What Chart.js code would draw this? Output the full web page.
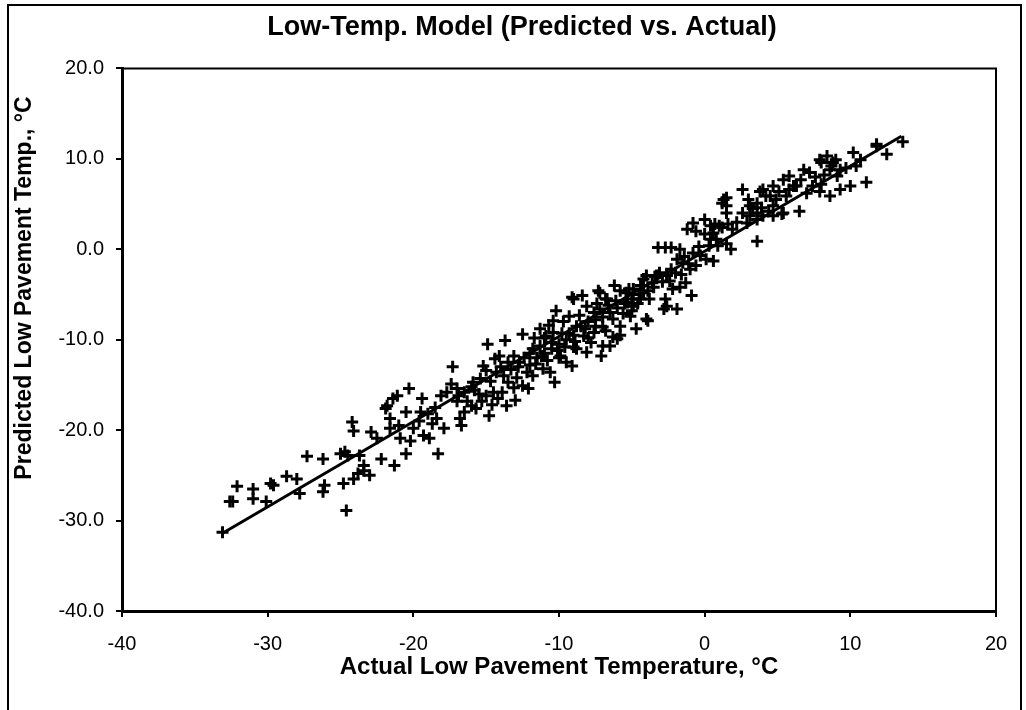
<!DOCTYPE html>
<html>
<head>
<meta charset="utf-8">
<script src="https://cdn.jsdelivr.net/npm/chart.js@4/dist/chart.umd.min.js"></script>
<style>
    html, body { margin: 0; padding: 0; background: #fff; }
    #wrap { width: 1026px; height: 710px; position: relative; }
</style>
</head>
<body>
<div id="wrap"><canvas id="lowTempChart"></canvas></div>
<script>
// actual vs predicted low pavement temperature
const actualTemp = [
    -33.1, -32.6, -32.4, -32.1, -31.0, -31.0, -30.1, -29.8, -29.6, -28.7, -28.0, -27.8,
    -27.3, -26.2, -26.1, -26.2, -25.0, -24.7, -24.5, -24.8, -24.2, -24.1, -24.6, -24.1,
    -23.8, -23.4, -23.0, -23.7, -23.4, -22.9, -22.5, -22.2, -21.3, -21.9, -21.6, -21.4,
    -20.5, -18.3, -21.8, -21.1, -20.3, -19.4, -21.6, -20.9, -20.0, -19.3, -18.9, -18.4,
    -17.9, -18.1, -17.7, -17.3, -17.4, -17.0, -16.7, -16.8, -16.5, -16.0, -15.7, -15.9,
    -15.4, -15.2, -15.0, -14.9, -14.8, -15.0, -14.5, -14.2, -14.4, -14.1, -13.7, -13.8,
    -13.5, -13.1, -13.6, -13.0, -13.1, -12.7, -12.5, -12.5, -12.1, -12.2, -11.8, -11.8,
    -11.3, -11.1, -10.6, -10.3, -10.9, -10.4, -9.9, -9.5, -9.1, -8.8, -8.1, -8.3,
    -7.6, -7.1, -6.5, -6.0, -11.3, -10.2, -10.4, -9.3, -8.8, -9.0, -8.4, -8.1,
    -7.6, -7.2, -7.2, -6.7, -6.2, -5.8, -5.4, -4.9, -4.4, -4.2, -7.0, -6.3,
    -5.8, -4.7, -6.3, -5.8, -5.1, -4.9, -4.0, -9.1, -7.3, -6.8, -5.2, -4.9,
    -3.6, -4.2, -3.8, -3.1, -2.6, -2.3, -2.2, -1.7, -2.7, -2.8, -0.9, -3.9,
    -1.9, -1.5, -1.0, -3.2, -2.7, -2.3, -1.7, -0.8, -0.3, 0.1, 0.6, -1.2,
    -0.8, 0.0, 0.4, 0.7, 0.0, 0.4, 1.2, 1.2, 1.5, 1.5, 1.5, 1.8,
    3.6, 6.5, 6.8, 7.2, 7.9, 8.4, 8.8, 8.6, 9.1, 7.4, 7.9, 8.6,
    9.3, 10.0, 11.1, 10.2, 10.7, 10.4, 11.8, 12.5, 4.7, 5.4, 5.8, 6.3,
    4.5, 4.9, 5.6, 4.7, 5.3, 2.6, 3.0, 3.6, 4.0, 4.2, 1.3, 1.5,
    2.6, 3.1, 3.6, 4.0, 1.0, 1.6, 1.9, 0.8, -4.0, -3.3, -2.6, -1.3,
    -2.6, -1.9, 13.6, 11.8, 8.0, 8.7, 9.3, 6.1, 3.8, 4.7, 5.4, 3.1,
    3.6, -12.0, -11.5, -10.5, -10.0, -9.5, -9.0, -8.5, -8.0, -7.5, -7.0, -6.5,
    -6.0, -5.5, -5.0, -4.5, -13.5, -14.0, -12.8, -11.0, -10.0, -9.0, -8.0, -7.5,
    -15.5, -16.0, -16.5, -17.0, -18.5, -19.5, -20.5,
    -21.0, -20.2, -19.6, -19.0, -18.7, -16.9, -16.3, -15.8, -15.3, -14.7, -14.3, -14.6,
    -13.9, -13.3, -12.9, -12.4, -12.0, -11.6, -11.2, -10.8, -10.5, -10.1, -9.8, -9.6,
    -11.7, -11.0, -10.7, -9.7, -9.3, -8.9, -8.6, -8.2, -7.8, -7.4, -7.0, -6.8,
    -6.6, -6.1, -5.6, -5.3, -5.0, -4.6, -4.4, -3.9, -3.5, -3.4, -2.9, -2.4,
    -2.0, -1.6, -1.4, -1.1, -0.6, -0.4, 0.3, 0.9, 0.6, -0.6, 2.2, 2.9,
    3.3, 3.9, 4.4, 5.1, 5.8, 6.6, 7.0, 7.6, 8.2, 8.0, 9.0, 9.7
];
const predictedTemp = [
    -31.3, -27.9, -27.9, -26.2, -26.5, -27.6, -27.9, -25.9, -26.1, -25.1, -25.4, -27.0,
    -22.9, -23.2, -26.1, -26.8, -22.6, -22.4, -22.8, -25.9, -19.1, -20.1, -28.9, -25.4,
    -24.8, -24.5, -25.0, -22.8, -23.9, -20.2, -20.9, -23.2, -23.9, -17.6, -18.7, -16.5,
    -22.6, -22.6, -17.3, -16.2, -15.4, -16.5, -19.8, -20.9, -19.8, -20.6, -20.9, -18.7,
    -19.8, -16.2, -15.8, -13.0, -14.9, -15.4, -19.5, -18.7, -18.0, -17.3, -17.6, -14.7,
    -14.3, -12.9, -13.4, -10.5, -18.4, -16.2, -15.8, -16.5, -12.1, -11.8, -10.1, -14.0,
    -14.7, -15.3, -17.3, -16.7, -11.8, -12.5, -9.4, -15.1, -15.4, -13.6, -14.0, -11.0,
    -10.7, -13.2, -13.6, -14.7, -9.6, -9.2, -11.8, -12.5, -12.9, -11.0, -11.4, -9.6,
    -9.2, -11.8, -10.7, -9.9, -8.8, -6.8, -7.9, -7.4, -8.5, -5.5, -5.1, -6.3,
    -7.0, -6.6, -4.8, -5.5, -4.0, -4.6, -4.8, -4.4, -4.0, -3.3, -10.7, -9.7,
    -9.5, -8.8, -7.7, -8.5, -7.4, -6.3, -7.7, -5.3, -4.6, -5.5, -4.4, -5.0,
    -3.7, -4.8, -5.5, -2.6, -2.9, -2.2, -4.4, -4.2, -5.5, -6.6, -5.1, -7.9,
    -1.1, -1.5, -2.2, 0.2, 0.2, 0.2, 0.0, -0.4, -0.7, -1.1, -1.3, 2.2,
    2.9, 3.3, 2.6, 2.8, 1.7, 1.1, 2.4, 5.1, 5.7, 4.0, 0.6, 0.0,
    0.9, 4.2, 8.8, 8.5, 9.9, 10.3, 9.6, 8.8, 8.1, 7.0, 6.4, 5.9,
    6.6, 7.0, 7.4, 10.7, 9.9, 9.2, 11.6, 10.5, 7.0, 7.7, 8.1, 7.0,
    5.9, 5.5, 5.9, 3.7, 3.9, 6.6, 5.5, 5.1, 6.6, 5.9, 5.5, 4.8,
    4.0, 3.7, 3.3, 3.7, 2.6, 2.8, 2.2, 1.1, -2.9, -2.9, -2.9, -3.7,
    -6.3, -6.6, 11.9, 11.4, 9.6, 9.2, 8.8, 7.0, 6.4, 4.8, 4.0, 4.8,
    4.0, -11.5, -12.0, -11.0, -10.5, -10.0, -9.5, -8.5, -8.0, -7.8, -7.5, -7.0,
    -6.5, -6.0, -5.5, -5.0, -12.5, -13.0, -13.0, -11.5, -12.0, -10.8, -9.8, -8.5,
    -16.0, -15.2, -15.8, -16.8, -17.5, -18.0, -18.0,
    -19.5, -21.2, -19.0, -18.2, -19.3, -16.2, -16.8, -15.6, -16.8, -14.6, -13.6, -17.2,
    -15.8, -13.3, -14.2, -12.0, -12.8, -12.7, -11.8, -12.3, -10.3, -11.2, -9.3, -10.8,
    -9.8, -9.8, -8.4, -8.0, -9.3, -10.2, -7.3, -8.8, -10.3, -6.0, -8.6, -9.0,
    -6.2, -5.7, -7.1, -5.9, -6.8, -6.0, -5.5, -4.6, -4.2, -3.0, -3.6, -3.5,
    -2.6, -2.8, -0.8, -1.6, -1.8, 0.3, 0.4, 0.4, 1.8, 2.0, 3.0, 2.9,
    4.5, 4.6, 4.2, 6.4, 6.6, 7.7, 6.2, 8.0, 8.2, 7.2, 9.9, 9.0
];
// fitted line end points
const fitX = [-33.1, 13.5];
const fitY = [-31.4, 12.5];

const xTicks = [-40, -30, -20, -10, 0, 10, 20];
const yTicks = [-40, -30, -20, -10, 0, 10, 20];
const yTitle = 'Predicted Low Pavement Temp., °C';

let points = [];
for (let i = 0; i < actualTemp.length; i++) {
    points.push({ x: actualTemp[i], y: predictedTemp[i] });
}
let fitLine = [];
for (let i = 0; i < fitX.length; i++) {
    fitLine.push({ x: fitX[i], y: fitY[i] });
}

// frame round the plot area and the figure, plus the y title (it sits above centre in the original)
const framePlugin = {
    id: 'frames',
    afterDraw(chart) {
        const ctx = chart.ctx;
        const a = chart.chartArea;
        ctx.save();
        ctx.strokeStyle = '#000';
        ctx.lineWidth = 2;
        ctx.beginPath();
        ctx.moveTo(a.left, a.top);
        ctx.lineTo(a.right, a.top);
        ctx.lineTo(a.right, a.bottom);
        ctx.stroke();
        ctx.strokeRect(8, 5, 1013, 720);

        ctx.translate(25, 288);
        ctx.rotate(-Math.PI / 2);
        ctx.fillStyle = '#000';
        ctx.font = 'bold 23px "Liberation Sans"';
        ctx.textAlign = 'center';
        ctx.textBaseline = 'middle';
        ctx.fillText(yTitle, 0, 0);
        ctx.restore();
    }
};

const ctx = document.getElementById('lowTempChart').getContext('2d');
new Chart(ctx, {
    type: 'scatter',
    data: {
        datasets: [{
            label: 'Predicted vs. Actual',
            data: points,
            pointStyle: 'cross',
            pointRadius: 6,
            pointBorderWidth: 3,
            borderColor: '#000',
            backgroundColor: '#000'
        }, {
            type: 'line',
            label: 'Fit',
            data: fitLine,
            borderColor: '#000',
            borderWidth: 3,
            pointRadius: 0,
            fill: false
        }]
    },
    plugins: [framePlugin],
    options: {
        responsive: true,
        maintainAspectRatio: false,
        animation: false,
        layout: { padding: { left: 48, right: 30, top: 0, bottom: 0 } },
        plugins: {
            legend: { display: false },
            tooltip: { enabled: false },
            title: {
                display: true,
                text: 'Low-Temp. Model (Predicted vs. Actual)',
                color: '#000',
                font: { family: 'Liberation Sans', size: 27, weight: 'bold' },
                padding: { top: 11, bottom: 25 }
            }
        },
        scales: {
            x: {
                type: 'linear',
                min: -40,
                max: 20,
                afterBuildTicks: s => { s.ticks = xTicks.map(v => ({ value: v })); },
                afterFit: s => { s.height = 99; },
                border: { color: '#000', width: 3 },
                grid: { display: true, drawOnChartArea: false, drawTicks: true, tickLength: 6, color: '#000', lineWidth: 2 },
                ticks: {
                    color: '#000',
                    font: { family: 'Liberation Sans', size: 20 },
                    padding: 15,
                    maxRotation: 0,
                    callback: v => String(v)
                },
                title: {
                    display: true,
                    text: 'Actual Low Pavement Temperature, °C',
                    color: '#000',
                    font: { family: 'Liberation Sans', size: 24, weight: 'bold' },
                    padding: { top: 0, bottom: 28 }
                }
            },
            y: {
                type: 'linear',
                min: -40,
                max: 20,
                afterBuildTicks: s => { s.ticks = yTicks.map(v => ({ value: v })); },
                afterFit: s => { s.width = 74; },
                border: { color: '#000', width: 3 },
                grid: { display: true, drawOnChartArea: false, drawTicks: true, tickLength: 6, color: '#000', lineWidth: 2 },
                ticks: {
                    color: '#000',
                    font: { family: 'Liberation Sans', size: 20 },
                    padding: 12,
                    callback: v => v.toFixed(1)
                }
            }
        }
    }
});
</script>
</body>
</html>
